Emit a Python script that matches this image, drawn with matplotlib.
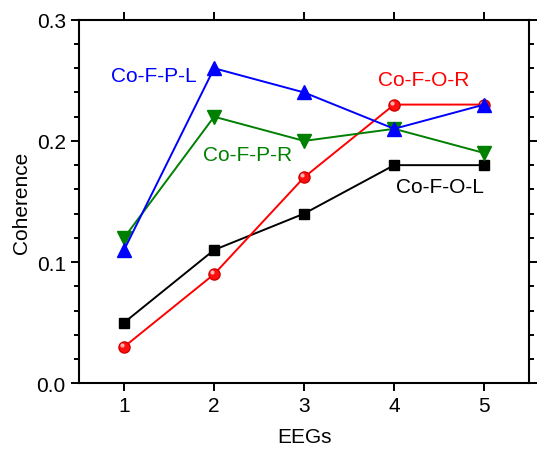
import matplotlib
matplotlib.use('Agg')
import matplotlib.pyplot as plt
from matplotlib.ticker import MultipleLocator

plt.rcParams['font.family'] = ['Liberation Sans', 'DejaVu Sans']

eegs = [1, 2, 3, 4, 5]
co_f_o_l = [0.05, 0.11, 0.14, 0.18, 0.18]
co_f_o_r = [0.03, 0.09, 0.17, 0.23, 0.23]
co_f_p_l = [0.11, 0.26, 0.24, 0.21, 0.23]
co_f_p_r = [0.12, 0.22, 0.20, 0.21, 0.19]

fig = plt.figure(figsize=(5.49, 4.52), dpi=100)
ax = fig.add_axes([0.144, 0.150, 0.820, 0.804])

ax.plot(eegs, co_f_o_l, color='black', marker='s', ms=7, lw=1.4)
ax.plot(eegs, co_f_o_r, color='#ff0000', marker='o', ms=8, lw=1.4,
        mec='#d00000', mfc='#ff1010')
# small highlight on the red spheres
ax.plot(eegs, co_f_o_r, ls='none', marker='o', ms=3, mfc='#ffb0b0', mec='none',
        transform=ax.transData + matplotlib.transforms.ScaledTranslation(-1.5/72, 1.5/72, fig.dpi_scale_trans))
ax.plot(eegs, co_f_p_r, color='#008000', marker='v', ms=10, lw=1.4)
ax.plot(eegs, co_f_p_l, color='#0000ff', marker='^', ms=10, lw=1.4)

ax.text(1.81, 0.254, 'Co-F-P-L', color='#0000ff', fontsize=15, ha='right', va='center')
ax.text(1.88, 0.189, 'Co-F-P-R', color='#008000', fontsize=15, ha='left', va='center')
ax.text(3.82, 0.251, 'Co-F-O-R', color='#ff0000', fontsize=15, ha='left', va='center')
ax.text(4.02, 0.162, 'Co-F-O-L', color='black', fontsize=15, ha='left', va='center')

ax.set_xlim(0.5, 5.5)
ax.set_ylim(0, 0.3)
ax.xaxis.set_major_locator(MultipleLocator(1))
ax.yaxis.set_major_locator(MultipleLocator(0.1))
ax.yaxis.set_minor_locator(MultipleLocator(0.02))
ax.yaxis.set_major_formatter(matplotlib.ticker.FormatStrFormatter('%.1f'))

ax.tick_params(which='both', direction='out', top=True, right=True,
               labelsize=15, width=1.4)
ax.tick_params(which='major', length=6)
ax.tick_params(which='minor', length=3.5)
for s in ax.spines.values():
    s.set_linewidth(1.5)

ax.set_xlabel('EEGs', fontsize=15, labelpad=8)
ax.set_ylabel('Coherence', fontsize=15, labelpad=4)

fig.savefig('out.png', dpi=100)
